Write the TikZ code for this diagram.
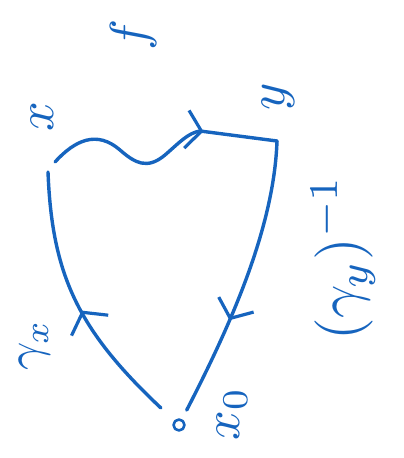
\documentclass[tikz,border=0pt]{standalone}
\usetikzlibrary{arrows.meta,decorations.markings}
\definecolor{ink}{RGB}{22,100,190}
\begin{document}
\begin{tikzpicture}[x=1pt,y=-1pt, line width=3.4pt, line cap=round, line join=round,
  lbl/.style={text=ink, rotate=90, scale=5.2, inner sep=0pt},
  fwd/.style={postaction={decorate}, decoration={markings, mark=at position #1 with {\arrow[line width=3.2pt]{Straight Barb[length=15pt,width=38pt]}}}},
  bwd/.style={postaction={decorate}, decoration={markings, mark=at position #1 with {\arrowreversed[line width=3.2pt]{Straight Barb[length=15pt,width=42pt]}}}},
  edge/.style={draw=ink}]
\useasboundingbox (0,0) rectangle (404,458);
\coordinate (A) at (48,172);
\coordinate (W) at (55,162);
\coordinate (B) at (277,141);
\node[circle, draw=ink, line width=2.6pt, minimum size=11pt, inner sep=0pt] (O) at (179,425) {};
% edges
\draw[edge, fwd=0.7] (W) .. controls (75,140) and (97,130) .. (120,150)
  .. controls (135,163) and (147,170) .. (165,155)
  .. controls (180,142) and (188,133) .. (200,131) -- (B);
\draw[edge, bwd=0.5, shorten >=18pt] (A) .. controls (52,275) and (78,330) .. (O);
\draw[edge, fwd=0.63, shorten >=10pt] (B) .. controls (274,230) and (228,330) .. (O);
% labels
\node[lbl] (lx) at (42,117) {$x$};
\node[lbl] (ly) at (278,97) {$y$};
\node[lbl] (lf) at (133,35) {$f$};
\node[lbl, scale=0.95] (lgx) at (35,345) {$\gamma_x$};
\node[lbl, scale=1.12] (lgy) at (343,258) {$(\gamma_y)^{-1}$};
\node[lbl] (lx0) at (232,414) {$x_0$};
\end{tikzpicture}
\end{document}
